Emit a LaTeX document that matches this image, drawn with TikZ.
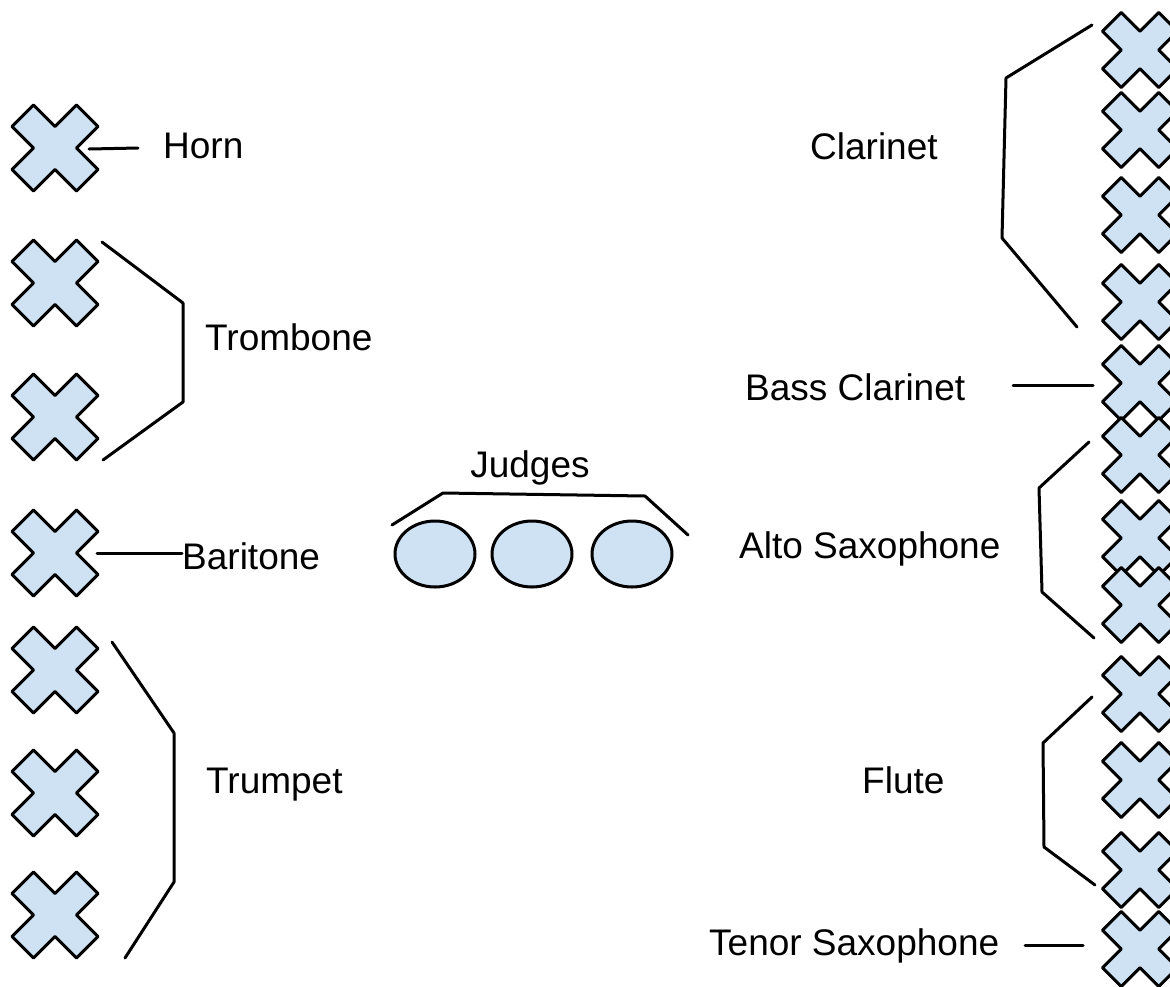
\documentclass[tikz,border=0pt]{standalone}
\usepackage{fontspec}
\setmainfont{Liberation Sans}
\usetikzlibrary{shapes.geometric}
\definecolor{xfill}{HTML}{CFE2F3}
\begin{document}
\begin{tikzpicture}[x=1pt,y=-1pt,
  lbl/.style={font=\fontsize{37}{44}\selectfont, inner sep=0pt, anchor=base west},
  brk/.style={line width=3pt, line cap=round, line join=round},
  xshape/.style={fill=xfill, draw=black, line width=3pt, line join=round},
  judge/.style={ellipse, draw, fill=xfill, line width=3pt, minimum width=80pt, minimum height=66pt, inner sep=0pt},
  xmark/.pic={\draw[xshape] (-0.5,1)--(0,0.5)--(0.5,1)--(1,0.5)--(0.5,0)--(1,-0.5)--(0.5,-1)--(0,-0.5)--(-0.5,-1)--(-1,-0.5)--(-0.5,0)--(-1,0.5)--cycle; \coordinate (-c) at (0,0);}
]
\useasboundingbox (0,0) rectangle (1170,986);
\begin{scope}
\clip (0,0) rectangle (1170,986);
% left column
\pic[scale=43] (l1) at (55,148) {xmark};
\pic[scale=43] (l2) at (55,283) {xmark};
\pic[scale=43] (l3) at (55,417) {xmark};
\pic[scale=43] (l4) at (55,553) {xmark};
\pic[scale=43] (l5) at (55,670) {xmark};
\pic[scale=43] (l6) at (55,793) {xmark};
\pic[scale=43] (l7) at (55,915) {xmark};
% right column
\foreach \n/\y in {1/50,2/130,3/215,4/302,5/383,6/455,7/538,8/605,9/694,10/780,11/870,12/949}{
  \pic[scale=37.5] (r\n) at (1140,\y) {xmark};
}
\end{scope}

% labels
\node[lbl] (horn) at (163,158) {Horn};
\node[lbl] (trombone) at (205,350) {Trombone};
\node[lbl] (baritone) at (182,569) {Baritone};
\node[lbl] (trumpet) at (206,793) {Trumpet};
\node[lbl, anchor=base] (judgestxt) at (530,477) {Judges};
\node[lbl] (clarinet) at (810,159) {Clarinet};
\node[lbl] (bassclar) at (745,400) {Bass Clarinet};
\node[lbl] (altosax) at (739,558) {Alto Saxophone};
\node[lbl] (flute) at (862,793) {Flute};
\node[lbl] (tenorsax) at (709,955) {Tenor Saxophone};

% judges
\node[judge] (j1) at (435,554) {};
\node[judge] (j2) at (532,554) {};
\node[judge] (j3) at (632,554) {};
\draw[brk] (392,525) -- (443,493) -- (645,496) -- (688,535);

% single connectors
\draw[brk] ([xshift=34pt,yshift=-1pt]l1-c) -- ([xshift=-25pt]horn.west |- l1-c);
\draw[brk] ([xshift=42pt]l4-c) -- (baritone.west |- l4-c);
\draw[brk] (1013,385) -- ([xshift=-47pt,yshift=-2pt]r5-c);
\draw[brk] (1025,945) -- ([xshift=-57pt,yshift=4pt]r12-c);

% brackets left
\draw[brk] (102,242) -- (183,303) -- (183,402) -- (103,460);
\draw[brk] (112,642) -- (174,733) -- (174,882) -- (125,958);
% brackets right
\draw[brk] (1092,25) -- (1006,78) -- (1002,238) -- (1077,327);
\draw[brk] (1089,442) -- (1039,488) -- (1042,592) -- (1094,638);
\draw[brk] (1092,697) -- (1043,743) -- (1044,847) -- (1095,885);
\end{tikzpicture}
\end{document}
